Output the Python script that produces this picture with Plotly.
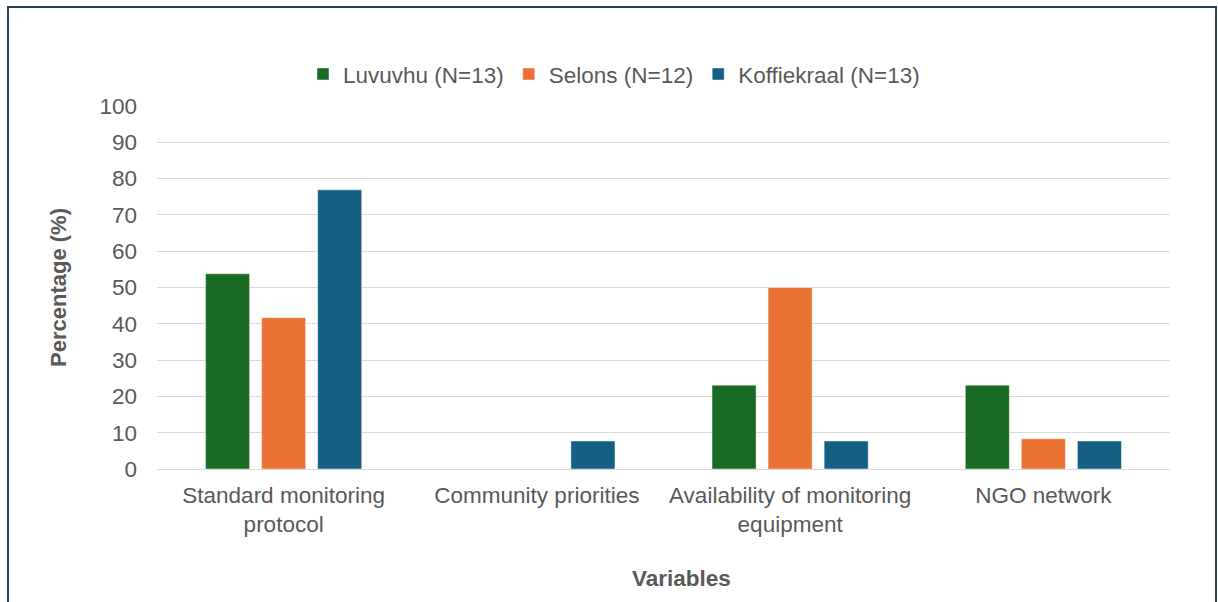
import plotly.graph_objects as go

# Share of respondents per site citing each variable
categories = [
    "Standard monitoring<br>protocol",
    "Community priorities",
    "Availability of monitoring<br>equipment",
    "NGO network",
]
luvuvhu = [53.8, 0, 23.1, 23.1]
selons = [41.7, 0, 50.0, 8.3]
koffiekraal = [76.9, 7.7, 7.7, 7.7]

series_names = ["Luvuvhu (N=13)", "Selons (N=12)", "Koffiekraal (N=13)"]
series_colors = ["#196B24", "#E97132", "#156082"]
y_ticks = list(range(0, 101, 10))

font_family = "Liberation Sans, Arial, sans-serif"
text_grey = "#595959"
fs = 22.5

fig = go.Figure()
for name, values, color in zip(series_names, [luvuvhu, selons, koffiekraal], series_colors):
    fig.add_trace(go.Bar(
        name=name,
        x=categories,
        y=values,
        marker=dict(color=color, line=dict(color="rgba(255,255,255,0.45)", width=1)),
    ))

fig.update_layout(
    width=1218,
    height=602,
    barmode="group",
    bargap=0.336,
    bargroupgap=0.214,
    paper_bgcolor="white",
    plot_bgcolor="white",
    font=dict(family=font_family, size=fs, color=text_grey),
    margin=dict(l=157, r=48, t=106, b=133),
    legend=dict(
        orientation="h",
        x=(614 - 157) / 1013, xanchor="center",
        y=1.028, yanchor="bottom",
        font=dict(size=fs, color=text_grey),
        itemwidth=30,
        traceorder="normal",
    ),
    showlegend=True,
)

fig.update_yaxes(
    range=[0, 100],
    tickvals=y_ticks,
    ticktext=[str(v) for v in y_ticks],
    showgrid=True,
    gridcolor="#D9D9D9",
    gridwidth=1,
    zeroline=True,
    zerolinecolor="#D9D9D9",
    zerolinewidth=1,
    showline=False,
    ticks="",
    ticklabelstandoff=19,
    tickfont=dict(size=fs, color=text_grey),
    title=dict(
        text="<b>Percentage (%)</b>",
        font=dict(size=22, color=text_grey),
        standoff=26,
    ),
    fixedrange=True,
)
fig.update_xaxes(
    showgrid=False,
    showline=False,
    ticks="",
    ticklabelstandoff=10,
    tickfont=dict(size=fs, color=text_grey),
    fixedrange=True,
)

# Horizontal axis title, centred under the whole chart frame
fig.add_annotation(
    text="<b>Variables</b>",
    xref="paper", yref="paper",
    x=(681 - 157) / 1013, y=(469 - 578) / 363,
    xanchor="center", yanchor="middle",
    showarrow=False,
    font=dict(size=fs, color=text_grey),
)

# Outer chart frame
fig.add_shape(
    type="rect",
    xref="paper", yref="paper",
    x0=(8 - 157) / 1013, x1=(1216 - 157) / 1013,
    y0=(469 - 640) / 363, y1=(469 - 7) / 363,
    line=dict(color="#2B3D52", width=2),
    fillcolor="rgba(0,0,0,0)",
    layer="below",
)

fig.write_html("out.html")
